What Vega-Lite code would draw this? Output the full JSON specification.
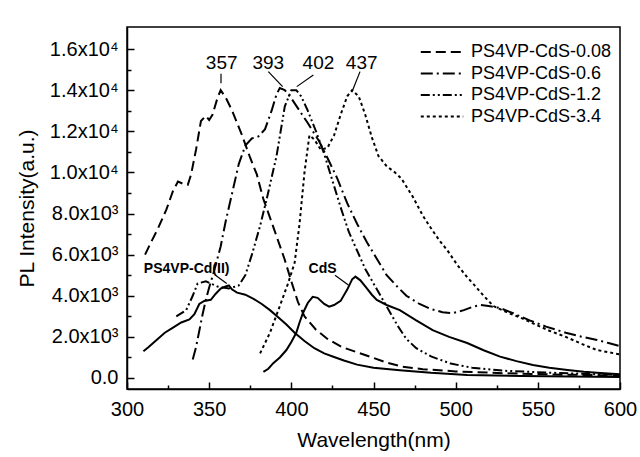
{
  "$schema": "https://vega.github.io/schema/vega-lite/v6.json",
  "width": 493,
  "height": 362,
  "autosize": "none",
  "padding": {"left": 127, "top": 27, "right": 20, "bottom": 68},
  "background": "white",
  "config": {
    "view": {"stroke": "black", "strokeWidth": 1.5},
    "font": "Liberation Sans"
  },
  "datasets": {
    "curves": [
      {"s":"PS4VP-CdS-0.08","w":311,"v":6000},{"s":"PS4VP-CdS-0.08","w":314,"v":6500},{"s":"PS4VP-CdS-0.08","w":319,"v":7300},{"s":"PS4VP-CdS-0.08","w":324,"v":8200},{"s":"PS4VP-CdS-0.08","w":328,"v":9100},{"s":"PS4VP-CdS-0.08","w":331,"v":9550},{"s":"PS4VP-CdS-0.08","w":334,"v":9450},{"s":"PS4VP-CdS-0.08","w":337,"v":9400},{"s":"PS4VP-CdS-0.08","w":339,"v":9900},{"s":"PS4VP-CdS-0.08","w":342,"v":11100},{"s":"PS4VP-CdS-0.08","w":345,"v":12500},{"s":"PS4VP-CdS-0.08","w":348,"v":12750},{"s":"PS4VP-CdS-0.08","w":350,"v":12550},{"s":"PS4VP-CdS-0.08","w":352,"v":12800},{"s":"PS4VP-CdS-0.08","w":355,"v":13600},{"s":"PS4VP-CdS-0.08","w":357,"v":14000},{"s":"PS4VP-CdS-0.08","w":360,"v":13650},{"s":"PS4VP-CdS-0.08","w":364,"v":13000},{"s":"PS4VP-CdS-0.08","w":367,"v":12400},{"s":"PS4VP-CdS-0.08","w":370,"v":11800},{"s":"PS4VP-CdS-0.08","w":375,"v":10700},{"s":"PS4VP-CdS-0.08","w":379,"v":9900},{"s":"PS4VP-CdS-0.08","w":383,"v":8700},{"s":"PS4VP-CdS-0.08","w":389,"v":7350},{"s":"PS4VP-CdS-0.08","w":396,"v":5750},{"s":"PS4VP-CdS-0.08","w":400,"v":4700},{"s":"PS4VP-CdS-0.08","w":404,"v":3700},{"s":"PS4VP-CdS-0.08","w":408,"v":3000},{"s":"PS4VP-CdS-0.08","w":415,"v":2350},{"s":"PS4VP-CdS-0.08","w":422,"v":1900},{"s":"PS4VP-CdS-0.08","w":431,"v":1500},{"s":"PS4VP-CdS-0.08","w":440,"v":1250},{"s":"PS4VP-CdS-0.08","w":448,"v":1030},{"s":"PS4VP-CdS-0.08","w":458,"v":750},{"s":"PS4VP-CdS-0.08","w":467,"v":560},{"s":"PS4VP-CdS-0.08","w":480,"v":430},{"s":"PS4VP-CdS-0.08","w":500,"v":320},{"s":"PS4VP-CdS-0.08","w":530,"v":230},{"s":"PS4VP-CdS-0.08","w":560,"v":170},{"s":"PS4VP-CdS-0.08","w":600,"v":120},
      {"s":"PS4VP-CdS-0.6","w":340,"v":900},{"s":"PS4VP-CdS-0.6","w":342,"v":1500},{"s":"PS4VP-CdS-0.6","w":344,"v":2300},{"s":"PS4VP-CdS-0.6","w":346,"v":3100},{"s":"PS4VP-CdS-0.6","w":348,"v":3800},{"s":"PS4VP-CdS-0.6","w":350,"v":4400},{"s":"PS4VP-CdS-0.6","w":353,"v":5200},{"s":"PS4VP-CdS-0.6","w":357,"v":6400},{"s":"PS4VP-CdS-0.6","w":360,"v":7600},{"s":"PS4VP-CdS-0.6","w":364,"v":9000},{"s":"PS4VP-CdS-0.6","w":368,"v":10400},{"s":"PS4VP-CdS-0.6","w":372,"v":11300},{"s":"PS4VP-CdS-0.6","w":376,"v":11650},{"s":"PS4VP-CdS-0.6","w":380,"v":11750},{"s":"PS4VP-CdS-0.6","w":384,"v":12100},{"s":"PS4VP-CdS-0.6","w":388,"v":13000},{"s":"PS4VP-CdS-0.6","w":391,"v":13800},{"s":"PS4VP-CdS-0.6","w":393,"v":14100},{"s":"PS4VP-CdS-0.6","w":396,"v":14000},{"s":"PS4VP-CdS-0.6","w":400,"v":13600},{"s":"PS4VP-CdS-0.6","w":405,"v":13000},{"s":"PS4VP-CdS-0.6","w":410,"v":12400},{"s":"PS4VP-CdS-0.6","w":417,"v":11500},{"s":"PS4VP-CdS-0.6","w":422,"v":10700},{"s":"PS4VP-CdS-0.6","w":428,"v":9700},{"s":"PS4VP-CdS-0.6","w":434,"v":8500},{"s":"PS4VP-CdS-0.6","w":440,"v":7500},{"s":"PS4VP-CdS-0.6","w":446,"v":6600},{"s":"PS4VP-CdS-0.6","w":452,"v":5800},{"s":"PS4VP-CdS-0.6","w":458,"v":5000},{"s":"PS4VP-CdS-0.6","w":465,"v":4400},{"s":"PS4VP-CdS-0.6","w":470,"v":4000},{"s":"PS4VP-CdS-0.6","w":478,"v":3600},{"s":"PS4VP-CdS-0.6","w":485,"v":3350},{"s":"PS4VP-CdS-0.6","w":492,"v":3200},{"s":"PS4VP-CdS-0.6","w":498,"v":3150},{"s":"PS4VP-CdS-0.6","w":505,"v":3300},{"s":"PS4VP-CdS-0.6","w":510,"v":3450},{"s":"PS4VP-CdS-0.6","w":515,"v":3550},{"s":"PS4VP-CdS-0.6","w":520,"v":3500},{"s":"PS4VP-CdS-0.6","w":527,"v":3400},{"s":"PS4VP-CdS-0.6","w":535,"v":3150},{"s":"PS4VP-CdS-0.6","w":545,"v":2800},{"s":"PS4VP-CdS-0.6","w":555,"v":2500},{"s":"PS4VP-CdS-0.6","w":567,"v":2200},{"s":"PS4VP-CdS-0.6","w":577,"v":2000},{"s":"PS4VP-CdS-0.6","w":586,"v":1850},{"s":"PS4VP-CdS-0.6","w":593,"v":1700},{"s":"PS4VP-CdS-0.6","w":600,"v":1550},
      {"s":"PS4VP-CdS-1.2","w":330,"v":3000},{"s":"PS4VP-CdS-1.2","w":336,"v":3300},{"s":"PS4VP-CdS-1.2","w":340,"v":4000},{"s":"PS4VP-CdS-1.2","w":343,"v":4600},{"s":"PS4VP-CdS-1.2","w":348,"v":4700},{"s":"PS4VP-CdS-1.2","w":355,"v":4450},{"s":"PS4VP-CdS-1.2","w":362,"v":4350},{"s":"PS4VP-CdS-1.2","w":368,"v":4500},{"s":"PS4VP-CdS-1.2","w":372,"v":5000},{"s":"PS4VP-CdS-1.2","w":376,"v":6000},{"s":"PS4VP-CdS-1.2","w":381,"v":7400},{"s":"PS4VP-CdS-1.2","w":385,"v":8700},{"s":"PS4VP-CdS-1.2","w":391,"v":10800},{"s":"PS4VP-CdS-1.2","w":396,"v":13200},{"s":"PS4VP-CdS-1.2","w":400,"v":14000},{"s":"PS4VP-CdS-1.2","w":403,"v":14000},{"s":"PS4VP-CdS-1.2","w":406,"v":13700},{"s":"PS4VP-CdS-1.2","w":410,"v":13000},{"s":"PS4VP-CdS-1.2","w":415,"v":12000},{"s":"PS4VP-CdS-1.2","w":420,"v":10900},{"s":"PS4VP-CdS-1.2","w":425,"v":9600},{"s":"PS4VP-CdS-1.2","w":430,"v":8300},{"s":"PS4VP-CdS-1.2","w":435,"v":7100},{"s":"PS4VP-CdS-1.2","w":440,"v":6200},{"s":"PS4VP-CdS-1.2","w":445,"v":5300},{"s":"PS4VP-CdS-1.2","w":450,"v":4600},{"s":"PS4VP-CdS-1.2","w":455,"v":3900},{"s":"PS4VP-CdS-1.2","w":460,"v":3200},{"s":"PS4VP-CdS-1.2","w":465,"v":2500},{"s":"PS4VP-CdS-1.2","w":470,"v":1900},{"s":"PS4VP-CdS-1.2","w":476,"v":1450},{"s":"PS4VP-CdS-1.2","w":485,"v":1050},{"s":"PS4VP-CdS-1.2","w":497,"v":700},{"s":"PS4VP-CdS-1.2","w":510,"v":500},{"s":"PS4VP-CdS-1.2","w":530,"v":350},{"s":"PS4VP-CdS-1.2","w":560,"v":250},{"s":"PS4VP-CdS-1.2","w":600,"v":150},
      {"s":"PS4VP-CdS-3.4","w":381,"v":1200},{"s":"PS4VP-CdS-3.4","w":387,"v":2200},{"s":"PS4VP-CdS-3.4","w":393,"v":3500},{"s":"PS4VP-CdS-3.4","w":398,"v":4600},{"s":"PS4VP-CdS-3.4","w":402,"v":5600},{"s":"PS4VP-CdS-3.4","w":405,"v":7500},{"s":"PS4VP-CdS-3.4","w":408,"v":10000},{"s":"PS4VP-CdS-3.4","w":411,"v":11800},{"s":"PS4VP-CdS-3.4","w":414,"v":11600},{"s":"PS4VP-CdS-3.4","w":418,"v":11100},{"s":"PS4VP-CdS-3.4","w":422,"v":11200},{"s":"PS4VP-CdS-3.4","w":426,"v":11800},{"s":"PS4VP-CdS-3.4","w":430,"v":12800},{"s":"PS4VP-CdS-3.4","w":434,"v":13700},{"s":"PS4VP-CdS-3.4","w":437,"v":14000},{"s":"PS4VP-CdS-3.4","w":441,"v":13700},{"s":"PS4VP-CdS-3.4","w":445,"v":12800},{"s":"PS4VP-CdS-3.4","w":449,"v":11700},{"s":"PS4VP-CdS-3.4","w":453,"v":10800},{"s":"PS4VP-CdS-3.4","w":458,"v":10300},{"s":"PS4VP-CdS-3.4","w":463,"v":10000},{"s":"PS4VP-CdS-3.4","w":467,"v":9700},{"s":"PS4VP-CdS-3.4","w":474,"v":8800},{"s":"PS4VP-CdS-3.4","w":480,"v":7900},{"s":"PS4VP-CdS-3.4","w":484,"v":7400},{"s":"PS4VP-CdS-3.4","w":490,"v":6700},{"s":"PS4VP-CdS-3.4","w":495,"v":6200},{"s":"PS4VP-CdS-3.4","w":501,"v":5500},{"s":"PS4VP-CdS-3.4","w":507,"v":4900},{"s":"PS4VP-CdS-3.4","w":511,"v":4550},{"s":"PS4VP-CdS-3.4","w":517,"v":4000},{"s":"PS4VP-CdS-3.4","w":523,"v":3500},{"s":"PS4VP-CdS-3.4","w":531,"v":3200},{"s":"PS4VP-CdS-3.4","w":539,"v":2950},{"s":"PS4VP-CdS-3.4","w":547,"v":2660},{"s":"PS4VP-CdS-3.4","w":557,"v":2300},{"s":"PS4VP-CdS-3.4","w":567,"v":2000},{"s":"PS4VP-CdS-3.4","w":577,"v":1650},{"s":"PS4VP-CdS-3.4","w":586,"v":1360},{"s":"PS4VP-CdS-3.4","w":593,"v":1250},{"s":"PS4VP-CdS-3.4","w":600,"v":1150}
    ],
    "solid": [
      {"s":"Cd(II)","w":310,"v":1300},{"s":"Cd(II)","w":313,"v":1500},{"s":"Cd(II)","w":318,"v":1850},{"s":"Cd(II)","w":323,"v":2200},{"s":"Cd(II)","w":328,"v":2450},{"s":"Cd(II)","w":333,"v":2700},{"s":"Cd(II)","w":338,"v":2850},{"s":"Cd(II)","w":341,"v":3100},{"s":"Cd(II)","w":344,"v":3600},{"s":"Cd(II)","w":347,"v":3750},{"s":"Cd(II)","w":351,"v":3800},{"s":"Cd(II)","w":354,"v":4100},{"s":"Cd(II)","w":357,"v":4350},{"s":"Cd(II)","w":360,"v":4450},{"s":"Cd(II)","w":362,"v":4500},{"s":"Cd(II)","w":364,"v":4300},{"s":"Cd(II)","w":367,"v":4150},{"s":"Cd(II)","w":372,"v":4050},{"s":"Cd(II)","w":377,"v":3850},{"s":"Cd(II)","w":382,"v":3600},{"s":"Cd(II)","w":387,"v":3300},{"s":"Cd(II)","w":392,"v":2950},{"s":"Cd(II)","w":397,"v":2600},{"s":"Cd(II)","w":402,"v":2200},{"s":"Cd(II)","w":408,"v":1800},{"s":"Cd(II)","w":414,"v":1450},{"s":"Cd(II)","w":420,"v":1200},{"s":"Cd(II)","w":426,"v":1020},{"s":"Cd(II)","w":432,"v":850},{"s":"Cd(II)","w":440,"v":650},{"s":"Cd(II)","w":450,"v":500},{"s":"Cd(II)","w":466,"v":380},{"s":"Cd(II)","w":485,"v":250},{"s":"Cd(II)","w":507,"v":150},{"s":"Cd(II)","w":540,"v":100},{"s":"Cd(II)","w":570,"v":70},{"s":"Cd(II)","w":600,"v":50},
      {"s":"CdS","w":383,"v":300},{"s":"CdS","w":386,"v":450},{"s":"CdS","w":389,"v":720},{"s":"CdS","w":393,"v":1000},{"s":"CdS","w":397,"v":1360},{"s":"CdS","w":400,"v":1750},{"s":"CdS","w":403,"v":2200},{"s":"CdS","w":405,"v":2700},{"s":"CdS","w":407,"v":3150},{"s":"CdS","w":410,"v":3650},{"s":"CdS","w":413,"v":3950},{"s":"CdS","w":416,"v":3900},{"s":"CdS","w":420,"v":3600},{"s":"CdS","w":423,"v":3470},{"s":"CdS","w":426,"v":3550},{"s":"CdS","w":430,"v":3750},{"s":"CdS","w":434,"v":4300},{"s":"CdS","w":437,"v":4800},{"s":"CdS","w":439,"v":4930},{"s":"CdS","w":442,"v":4750},{"s":"CdS","w":445,"v":4450},{"s":"CdS","w":449,"v":4050},{"s":"CdS","w":452,"v":3800},{"s":"CdS","w":458,"v":3550},{"s":"CdS","w":466,"v":3300},{"s":"CdS","w":476,"v":2800},{"s":"CdS","w":486,"v":2330},{"s":"CdS","w":496,"v":2000},{"s":"CdS","w":507,"v":1700},{"s":"CdS","w":517,"v":1350},{"s":"CdS","w":527,"v":1040},{"s":"CdS","w":537,"v":820},{"s":"CdS","w":547,"v":630},{"s":"CdS","w":557,"v":500},{"s":"CdS","w":568,"v":390},{"s":"CdS","w":578,"v":300},{"s":"CdS","w":588,"v":240},{"s":"CdS","w":600,"v":180}
    ],
    "peaks": [
      {"t":"357","w":357.6,"v":15300},{"t":"393","w":386,"v":15300},{"t":"402","w":416.5,"v":15300},{"t":"437","w":442.8,"v":15300}
    ],
    "names": [
      {"t":"PS4VP-Cd(II)","w":336.3,"v":5280},{"t":"CdS","w":419,"v":5300}
    ],
    "leaders": [
      {"w":357.2,"v":14800,"w2":357.2,"v2":14330},
      {"w":386,"v":14900,"w2":394.7,"v2":14170},
      {"w":413.4,"v":14740,"w2":403.3,"v2":14170},
      {"w":441.8,"v":14900,"w2":436.8,"v2":13900},
      {"w":353.6,"v":5010,"w2":360.7,"v2":4600},
      {"w":426.6,"v":5000,"w2":434.7,"v2":4520}
    ]
  },
  "encoding": {
    "x": {
      "field": "w", "type": "quantitative",
      "scale": {"domain": [300, 600], "nice": false, "zero": false},
      "axis": {
        "title": "Wavelength(nm)",
        "values": [300,325,350,375,400,425,450,475,500,525,550,575,600],
        "labelExpr": "datum.value % 50 === 0 ? datum.label : ''",
        "format": "d",
        "labelFlush": false,
        "labelOverlap": false,
        "ticks": true,
        "tickSize": {"condition": {"test": "datum.value % 50 === 0", "value": -7}, "value": -4},
        "labelPadding": 17,
        "labelFontSize": 20, "labelColor": "black", "labelFont": "Liberation Sans",
        "tickColor": "black", "tickWidth": 1.5,
        "domainColor": "black", "domainWidth": 1.5,
        "grid": false,
        "zindex": 1,
        "titleFontSize": 21, "titleFontWeight": "normal", "titleColor": "black", "titleFont": "Liberation Sans",
        "titleX": 246.5, "titleY": 51, "titleBaseline": "middle", "titleAlign": "center"
      }
    },
    "y": {
      "field": "v", "type": "quantitative",
      "scale": {"domain": [-535, 17070], "nice": false, "zero": false},
      "axis": {
        "title": "PL Intensity(a.u.)",
        "values": [0,1000,2000,3000,4000,5000,6000,7000,8000,9000,10000,11000,12000,13000,14000,15000,16000],
        "labelExpr": "datum.value === 0 ? '0.0' : (datum.value % 2000 !== 0 ? '' : (datum.value < 10000 ? format(datum.value/1000, '.1f') + 'x10³' : format(datum.value/10000, '.1f') + 'x10⁴'))",
        "labelOverlap": false,
        "ticks": true,
        "tickSize": {"condition": {"test": "datum.value % 2000 === 0", "value": -7}, "value": -4},
        "labelPadding": 16,
        "labelFontSize": 20, "labelColor": "black", "labelFont": "Liberation Sans",
        "tickColor": "black", "tickWidth": 1.5,
        "domainColor": "black", "domainWidth": 1.5,
        "grid": false,
        "zindex": 1,
        "titleFontSize": 21, "titleFontWeight": "normal", "titleColor": "black", "titleFont": "Liberation Sans",
        "titleX": -100, "titleY": 181, "titleBaseline": "middle", "titleAlign": "center", "titleAngle": -90
      }
    }
  },
  "layer": [
    {
      "data": {"name": "solid"},
      "mark": {"type": "line", "color": "black", "strokeWidth": 2},
      "encoding": {"detail": {"field": "s", "type": "nominal"}}
    },
    {
      "data": {"name": "curves"},
      "mark": {"type": "line", "color": "black", "strokeWidth": 2},
      "encoding": {
        "strokeDash": {
          "field": "s", "type": "nominal",
          "scale": {
            "domain": ["PS4VP-CdS-0.08","PS4VP-CdS-0.6","PS4VP-CdS-1.2","PS4VP-CdS-3.4"],
            "range": [[10,5],[12,4,2,4],[9,3,2,3,2,3],[3,3]]
          },
          "legend": {
            "title": null,
            "orient": "none",
            "legendX": 306,
            "legendY": 16,
            "padding": 0,
            "symbolType": "M-3,0H3",
            "symbolSize": 200,
            "symbolStrokeWidth": 2,
            "symbolStrokeColor": "black",
            "labelOffset": 20,
            "labelFontSize": 18,
            "labelFont": "Liberation Sans",
            "labelColor": "black",
            "rowPadding": 3.5,
            "labelLimit": 300
          }
        }
      }
    },
    {
      "data": {"name": "leaders"},
      "mark": {"type": "rule", "color": "black", "strokeWidth": 1.2},
      "encoding": {
        "x2": {"field": "w2"},
        "y2": {"field": "v2"}
      }
    },
    {
      "data": {"name": "peaks"},
      "mark": {"type": "text", "fontSize": 19, "font": "Liberation Sans", "color": "black", "baseline": "middle", "align": "center"},
      "encoding": {"text": {"field": "t"}}
    },
    {
      "data": {"name": "names"},
      "mark": {"type": "text", "fontSize": 14, "fontWeight": "bold", "font": "Liberation Sans", "color": "black", "baseline": "middle", "align": "center"},
      "encoding": {"text": {"field": "t"}}
    }
  ]
}
